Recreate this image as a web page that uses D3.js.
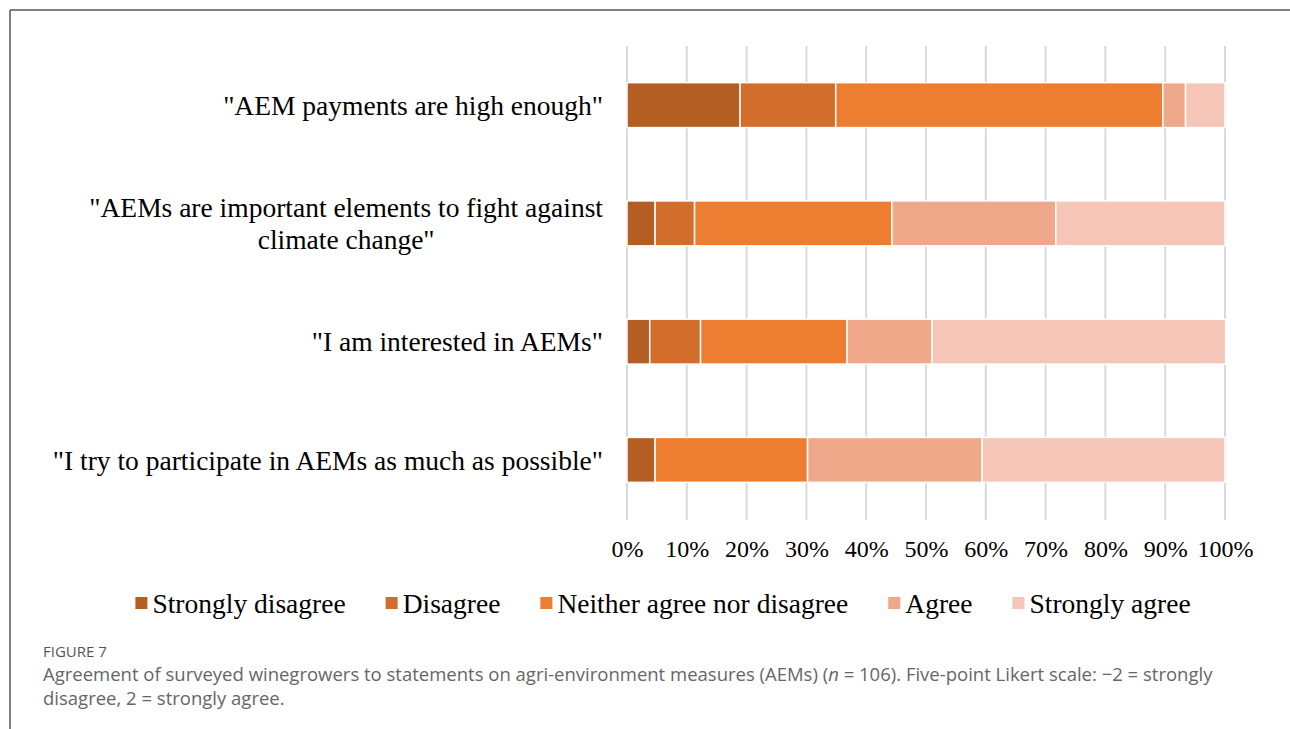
<!DOCTYPE html>
<html>
<head>
<meta charset="utf-8">
<script src="https://cdn.jsdelivr.net/npm/d3@7"></script>
<style>
  html, body { margin: 0; padding: 0; background: #fff; }
  svg { display: block; }
</style>
</head>
<body>
<svg id="chart" width="1290" height="729"></svg>
<script>
// ---- Data ----
const statements = [
  ["\"AEM payments are high enough\""],
  ["\"AEMs are important elements to fight against", "climate change\""],
  ["\"I am interested in AEMs\""],
  ["\"I try to participate in AEMs as much as possible\""]
];
const seriesNames = ["Strongly disagree", "Disagree", "Neither agree nor disagree", "Agree", "Strongly agree"];
const stronglyDisagree = [18.9, 4.7, 3.8, 4.7];
const disagree         = [16.0, 6.6, 8.5, 0.0];
const neither          = [54.7, 33.0, 24.5, 25.5];
const agree            = [3.8, 27.4, 14.2, 29.2];
const stronglyAgree    = [6.6, 28.3, 49.1, 40.6];
const seriesColors = ["#b45e23", "#d26d2b", "#ed7d31", "#f0a88b", "#f5c6b7"];
const tickValues = [0, 10, 20, 30, 40, 50, 60, 70, 80, 90, 100];
const figureLabel = "FIGURE 7";

// ---- Build table ----
const keys = seriesNames;
const rows = statements.map((s, i) => ({
  id: i,
  lines: s,
  "Strongly disagree": stronglyDisagree[i],
  "Disagree": disagree[i],
  "Neither agree nor disagree": neither[i],
  "Agree": agree[i],
  "Strongly agree": stronglyAgree[i]
}));

const svg = d3.select("#chart");
const serif = "'Liberation Serif', 'Times New Roman', serif";
const sans = "'Open Sans', 'Noto Sans', sans-serif";

// Frame
svg.append("line").attr("x1", 10).attr("y1", 10).attr("x2", 1290).attr("y2", 10)
  .attr("stroke", "#555").attr("stroke-width", 1.5);
svg.append("line").attr("x1", 10).attr("y1", 10).attr("x2", 10).attr("y2", 729)
  .attr("stroke", "#555").attr("stroke-width", 1.5);

// Scales
const x = d3.scaleLinear().domain([0, 100]).range([627, 1225]);
const y = d3.scaleBand().domain(rows.map(d => d.id)).range([46, 519])
  .paddingInner(0.62).paddingOuter(0.31);
const color = d3.scaleOrdinal().domain(keys).range(seriesColors);

// Gridlines
svg.append("g").selectAll("line").data(tickValues).join("line")
  .attr("x1", d => x(d)).attr("x2", d => x(d))
  .attr("y1", 46).attr("y2", 520)
  .attr("stroke", "#d9d9d9").attr("stroke-width", 2);

// Bars
const stacked = d3.stack().keys(keys)(rows);
svg.append("g").selectAll("g").data(stacked).join("g")
  .attr("fill", d => color(d.key))
  .selectAll("rect").data(d => d.filter(s => s[1] - s[0] > 0)).join("rect")
  .attr("x", d => x(d[0]))
  .attr("width", d => x(d[1]) - x(d[0]))
  .attr("y", d => y(d.data.id))
  .attr("height", y.bandwidth())
  .attr("stroke", "#fff").attr("stroke-width", 1.5);

// X axis tick labels
const xAxis = d3.axisBottom(x).tickValues(tickValues).tickSize(0).tickPadding(0)
  .tickFormat(d => d + "%");
const gx = svg.append("g").attr("transform", "translate(0,540)").call(xAxis);
gx.select(".domain").remove();
gx.selectAll("text").attr("font-family", serif).attr("font-size", 24).attr("fill", "#000")
  .attr("dy", "0.71em");

// Y labels
const labelRight = 603;
const lineH = 32;
const yl = svg.append("g");
rows.forEach(r => {
  const cy = y(r.id) + y.bandwidth() / 2;
  const t = yl.append("text")
    .attr("font-family", serif).attr("font-size", 27.5).attr("fill", "#000");
  const n = r.lines.length;
  r.lines.forEach((ln, j) => {
    t.append("tspan").attr("x", 0)
      .attr("y", cy + (j - (n - 1) / 2) * lineH)
      .attr("dy", "0.35em")
      .text(ln);
  });
  let maxW = 0;
  t.selectAll("tspan").each(function () { maxW = Math.max(maxW, this.getComputedTextLength()); });
  t.attr("text-anchor", "middle");
  t.selectAll("tspan").attr("x", labelRight - maxW / 2);
});

// Legend
const legend = svg.append("g");
const items = legend.selectAll("g").data(keys).join("g");
items.append("rect").attr("width", 12).attr("height", 12).attr("y", -6)
  .attr("fill", d => color(d));
items.append("text").attr("x", 17).attr("dy", "0.35em")
  .attr("font-family", serif).attr("font-size", 27.5).attr("fill", "#000")
  .text(d => d);
const widths = [];
items.each(function () { widths.push(17 + d3.select(this).select("text").node().getComputedTextLength()); });
const gap = 40;
const total = d3.sum(widths) + gap * (widths.length - 1);
let cx = 663 - total / 2;
items.each(function (d, i) {
  d3.select(this).attr("transform", `translate(${cx},603)`);
  cx += widths[i] + gap;
});

// Caption
svg.append("text").attr("x", 43).attr("y", 657)
  .attr("font-family", sans).attr("font-size", 15).attr("fill", "#555")
  .text(figureLabel);
const cap1 = svg.append("text").attr("x", 43).attr("y", 681)
  .attr("font-family", sans).attr("font-size", 18.5).attr("fill", "#666");
cap1.append("tspan").text("Agreement of surveyed winegrowers to statements on agri-environment measures (AEMs) (");
cap1.append("tspan").attr("font-style", "italic").text("n");
cap1.append("tspan").text(" = 106). Five-point Likert scale: \u22122 = strongly");
svg.append("text").attr("x", 43).attr("y", 705)
  .attr("font-family", sans).attr("font-size", 18.5).attr("fill", "#666")
  .text("disagree, 2 = strongly agree.");
</script>
</body>
</html>
